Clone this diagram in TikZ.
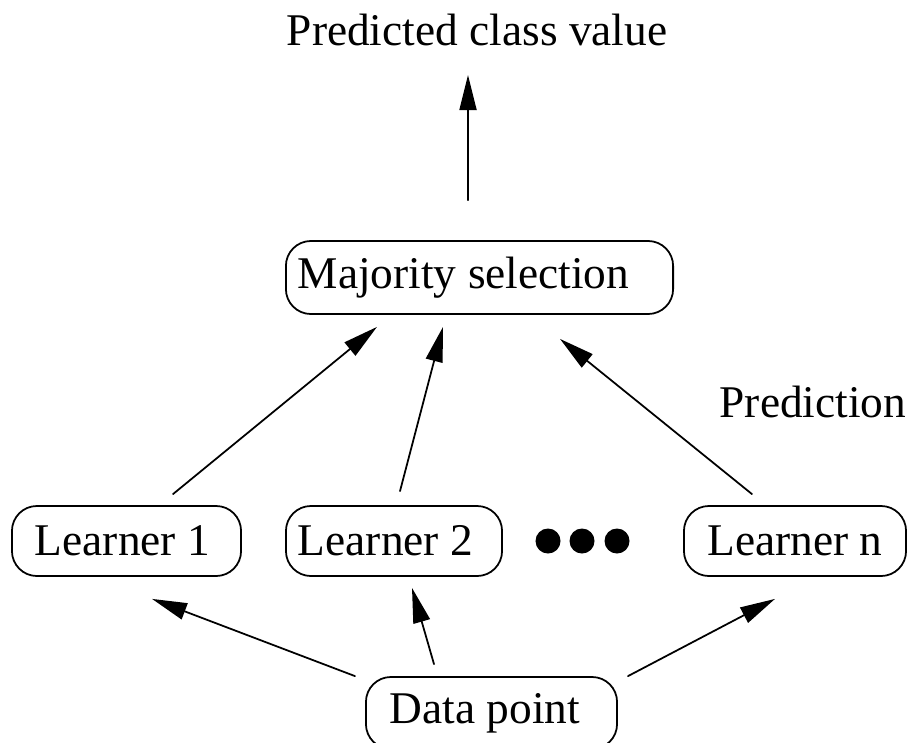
\documentclass[tikz,border=0pt]{standalone}
\usepackage{fontspec}
\setmainfont{Liberation Serif}
\usepackage{tikz}
\usetikzlibrary{calc}
\usetikzlibrary{arrows.meta}
\tikzset{every node/.style={font=\fontsize{12.9pt}{15pt}\selectfont}}
\tikzset{rbox/.style={draw,line width=0.5pt,rounded corners=2.5mm,minimum height=0.70cm,inner ysep=0pt}}

\begin{document}
\begin{tikzpicture}[line cap=round,line join=round,>={Triangle[length=3.5mm,width=1.7mm]},x=0.01cm,y=-0.01cm]
                    \useasboundingbox (0,0) rectangle (909,742);
                    \node [anchor=base] (pred) at (477,45) {Predicted class value};
                    \node [rbox,inner xsep=1.2mm,minimum height=0.73cm] (maj) at (479.5,277.5) {\makebox[3.63cm][l]{Majority selection}};
                    \node [rbox,inner xsep=2.3mm] (l1) at (126.5,541) {\makebox[1.83cm][l]{Learner 1}};
                    \node [rbox,inner xsep=1.2mm] (l2) at (394,541) {\makebox[1.92cm][l]{Learner 2}};
                    \node [rbox,inner xsep=1.2mm] (ln) at (795,541) {\makebox[1.98cm]{Learner n}};
                    \node [rbox,inner xsep=2.4mm,minimum height=0.72cm] (data) at (491.5,713) {\makebox[2.03cm][l]{Data point}};
                    \node [anchor=base] (predn) at (813,417) {Prediction};
                    \coordinate (out) at (468,75);
                    \draw [->,line width=0.5pt] ($(maj.north)+(-11.5,-40)$) -- (out);
                    \draw [->,line width=0.5pt] ($(l1.north)+(46.5,-11)$) -- ($(maj.south)+(-102.5,12)$);
                    \draw [->,line width=0.5pt] ($(l2.north)+(6,-14)$) -- ($(maj.south)+(-36.5,12)$);
                    \draw [->,line width=0.5pt] ($(ln.north)+(-43,-11)$) -- ($(maj.south)+(80.5,24)$);
                    \draw [->,line width=0.5pt] ($(data.north)+(-136.5,0)$) -- ($(l1.south)+(25.5,22)$);
                    \draw [->,line width=0.5pt] ($(data.north)+(-57.5,-12)$) -- ($(l2.south)+(18,11)$);
                    \draw [->,line width=0.5pt] ($(data.north)+(136.5,0)$) -- ($(ln.south)+(-20,22)$);
                    \fill (548,541) circle [radius=1.25mm];
                    \fill (582,541) circle [radius=1.25mm];
                    \fill (617,541) circle [radius=1.25mm];
                    \end{tikzpicture}
\end{document}
